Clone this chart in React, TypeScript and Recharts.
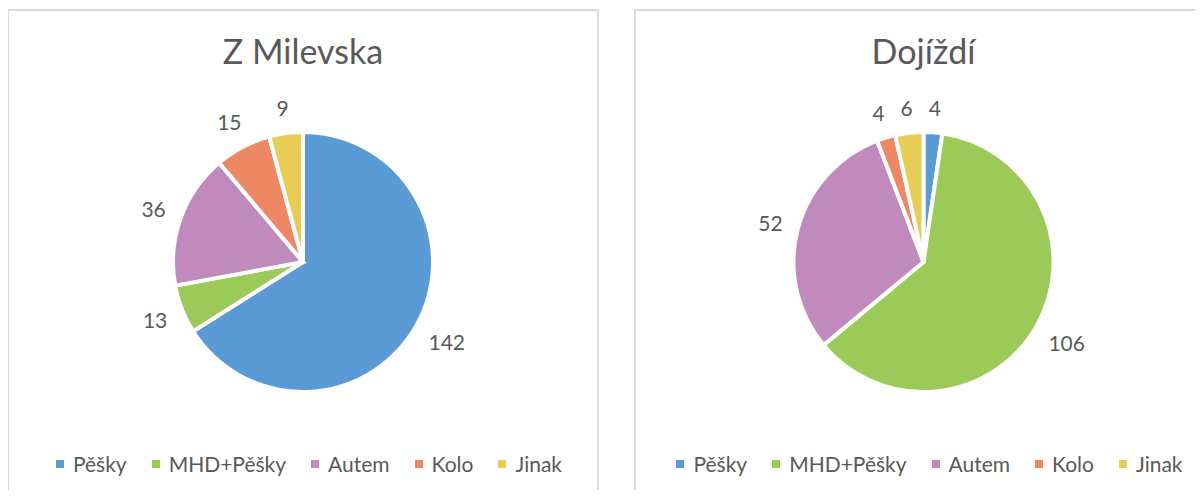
import { Cell, Legend, Pie, PieChart } from "recharts";

const categories = ["Pěšky", "MHD+Pěšky", "Autem", "Kolo", "Jinak"];
const milevskaValues = [142, 13, 36, 15, 9];
const dojizdiValues = [4, 106, 52, 4, 6];

const COLORS = ["#5B9BD5", "#9BCA58", "#C08ABD", "#EE8864", "#E7CC56"];
const TEXT = "#595959";
const FONT = "Lato, 'Open Sans', sans-serif";
const RADIAN = Math.PI / 180;
const LABEL_SIZE = 21;

function renderLabel(props: any) {
  const { cx, cy, midAngle, outerRadius, value } = props;
  const s = String(value);
  const w = s.length * LABEL_SIZE * 0.52;
  const h = LABEL_SIZE * 0.95;
  const dx = Math.cos(-midAngle * RADIAN);
  const dy = Math.sin(-midAngle * RADIAN);
  const dist = outerRadius - 2 + 17 + Math.abs(dx) * (w / 2) + Math.abs(dy) * (h / 2);
  return (
    <text
      x={cx + dx * dist}
      y={cy + dy * dist}
      textAnchor="middle"
      dominantBaseline="central"
      fill={TEXT}
      fontSize={LABEL_SIZE}
      fontFamily={FONT}
    >
      {s}
    </text>
  );
}

function LegendRow() {
  return (
    <div style={{ display: "flex", justifyContent: "center", gap: 25, fontFamily: FONT, fontSize: 21, color: TEXT }}>
      {categories.map((name, i) => (
        <div key={name} style={{ display: "flex", alignItems: "center" }}>
          <span style={{ width: 8, height: 8, background: COLORS[i], marginRight: 9, display: "inline-block" }} />
          <span>{name}</span>
        </div>
      ))}
    </div>
  );
}

function PieBox({ title, values, left, width, cx }: { title: string; values: number[]; left: number; width: number; cx: number }) {
  const data = categories.map((name, i) => ({ name, value: values[i] }));
  return (
    <div
      style={{
        position: "absolute",
        left,
        top: 9,
        width,
        height: 510,
        border: "2px solid #d9d9d9",
        boxSizing: "border-box",
        background: "#fff",
      }}
    >
      <div
        style={{
          position: "absolute",
          left: cx - 295,
          width: 590,
          top: 20,
          textAlign: "center",
          fontFamily: FONT,
          fontSize: 34,
          color: TEXT,
          lineHeight: "40px",
        }}
      >
        {title}
      </div>
      <PieChart width={590} height={500} margin={{ top: 0, right: 0, bottom: 0, left: 0 }}>
        <Pie
          data={data}
          dataKey="value"
          nameKey="name"
          cx={cx}
          cy={251}
          outerRadius={130}
          startAngle={90}
          endAngle={-270}
          stroke="#fff"
          strokeWidth={4}
          label={renderLabel}
          labelLine={false}
          isAnimationActive={false}
        >
          {data.map((d, i) => (
            <Cell key={d.name} fill={COLORS[i]} />
          ))}
        </Pie>
        <Legend content={<LegendRow />} wrapperStyle={{ top: 440, left: cx - 289, width: 590 }} />
      </PieChart>
    </div>
  );
}

export default function App() {
  return (
    <div style={{ position: "relative", margin: -8, width: 1203, height: 498, overflow: "hidden" }}>
      <PieBox title="Z Milevska" values={milevskaValues} left={7} width={592} cx={294} />
      <PieBox title="Dojíždí" values={dojizdiValues} left={634} width={600} cx={287.5} />
    </div>
  );
}
